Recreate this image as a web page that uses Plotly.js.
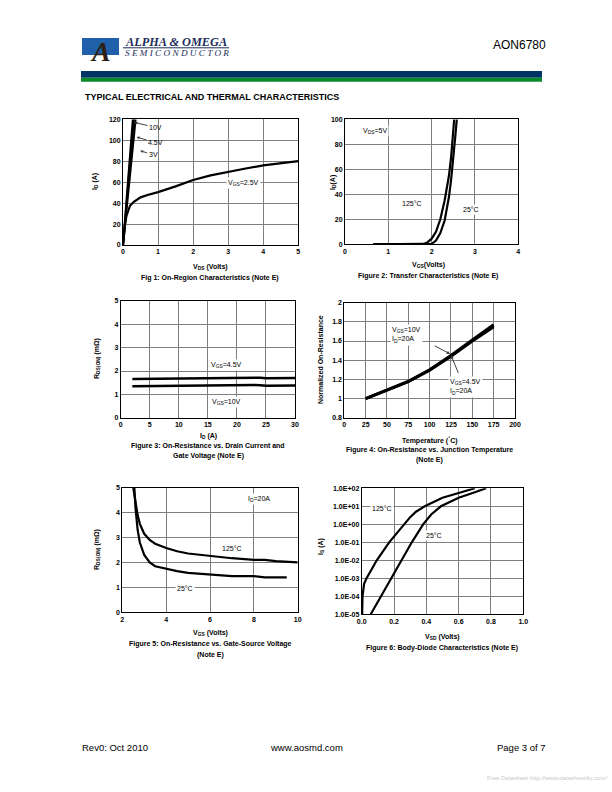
<!DOCTYPE html>
<html><head><meta charset="utf-8">
<script src="https://cdn.plot.ly/plotly-3.0.1.min.js"></script>
<style>html,body{margin:0;padding:0;background:#fff}#chart{width:612px;height:792px}</style>
</head><body><div id="chart"></div>
<script>
// ---------- Figure 1: On-Region Characteristics ----------
const fig1_vds_10v = [0, 0.1, 0.2, 0.28];
const fig1_id_10v  = [0, 43, 86, 120];
const fig1_vds_4v5 = [0, 0.1, 0.2, 0.31];
const fig1_id_4v5  = [0, 39, 77, 120];
const fig1_vds_3v  = [0, 0.1, 0.2, 0.3, 0.36];
const fig1_id_3v   = [0, 35, 69, 101, 120];
const fig1_vds_2v5 = [0, 0.03, 0.06, 0.1, 0.15, 0.2, 0.3, 0.4, 0.5, 0.7, 1, 1.5, 2, 2.5, 3, 3.5, 4, 4.5, 5];
const fig1_id_2v5  = [0, 11, 20, 28, 34, 37.5, 41, 43.5, 45.5, 47.8, 50.5, 56, 62, 66.5, 70, 73, 76, 78, 80];
// ---------- Figure 2: Transfer Characteristics ----------
const fig2_vgs_125 = [0.65, 1.0, 1.5, 1.8, 1.9, 2.0, 2.1, 2.2, 2.3, 2.4, 2.45, 2.5, 2.52];
const fig2_id_125  = [0, 0, 0, 0.3, 1.5, 4.5, 10, 20, 35, 55, 70, 90, 100];
const fig2_vgs_25  = [0.65, 1.0, 1.5, 2.0, 2.1, 2.2, 2.3, 2.4, 2.45, 2.5, 2.55, 2.58];
const fig2_id_25   = [0, 0, 0, 0.3, 3, 9, 19, 38, 52, 68, 88, 100];
// ---------- Figure 3: On-Resistance vs Drain Current ----------
const fig3_id       = [2, 5, 10, 15, 20, 22, 23, 24, 25, 30];
const fig3_rds_4v5  = [1.66, 1.67, 1.67, 1.68, 1.69, 1.71, 1.73, 1.71, 1.69, 1.70];
const fig3_rds_10v  = [1.35, 1.36, 1.36, 1.37, 1.38, 1.39, 1.40, 1.39, 1.37, 1.38];
// ---------- Figure 4: Normalized On-Resistance vs Temperature ----------
const fig4_temp      = [25, 50, 75, 100, 125, 150, 175];
const fig4_norm_10v  = [1.0, 1.09, 1.18, 1.30, 1.45, 1.61, 1.77];
const fig4_norm_4v5  = [1.0, 1.085, 1.175, 1.295, 1.44, 1.60, 1.75];
// ---------- Figure 5: On-Resistance vs Gate-Source Voltage ----------
const fig5_vgs_125 = [2.5, 2.6, 2.7, 2.8, 3.0, 3.25, 3.5, 4, 4.5, 5, 6, 7, 8, 8.5, 9, 10];
const fig5_rds_125 = [5.0, 4.4, 3.9, 3.55, 3.15, 2.9, 2.75, 2.58, 2.45, 2.36, 2.26, 2.17, 2.1, 2.1, 2.05, 2.0];
const fig5_vgs_25  = [2.55, 2.6, 2.7, 2.8, 3.0, 3.25, 3.5, 4, 4.5, 5, 6, 7, 8, 8.5, 9.5];
const fig5_rds_25  = [5.0, 4.2, 3.3, 2.8, 2.3, 2.0, 1.85, 1.74, 1.65, 1.58, 1.5, 1.45, 1.45, 1.4, 1.4];
// ---------- Figure 6: Body-Diode Characteristics ----------
const fig6_vsd_125 = [0.003, 0.005, 0.015, 0.03, 0.06, 0.093, 0.17, 0.26, 0.3, 0.336, 0.39, 0.5, 0.6, 0.7];
const fig6_is_125  = [1e-5, 1e-4, 5e-4, 1e-3, 3e-3, 1e-2, 1e-1, 1, 2.5, 5, 10, 30, 55, 100];
const fig6_vsd_25  = [0.056, 0.12, 0.18, 0.245, 0.31, 0.38, 0.43, 0.49, 0.6, 0.7, 0.77];
const fig6_is_25   = [1e-5, 1e-4, 1e-3, 1e-2, 1e-1, 1, 3.5, 10, 30, 60, 100];
const fig6_ytickvals = [1e-5, 1e-4, 1e-3, 1e-2, 1e-1, 1, 10, 100];
const fig6_yticktext = ['1.0E-05', '1.0E-04', '1.0E-03', '1.0E-02', '1.0E-01', '1.0E+00', '1.0E+01', '1.0E+02'];

const FONT = 'Liberation Sans, Arial, sans-serif';
const W = 612, H = 792;
const X = px => px / W;
const Y = py => 1 - py / H;
const TICKFONT = {family: FONT, size: 7, color: '#000', weight: 'bold'};

function axis(d0, d1, range, dtick, anchor, extra) {
  return Object.assign({
    domain: [X(d0), X(d1)], range: range, dtick: dtick, anchor: anchor,
    showgrid: true, gridcolor: '#7f7f7f', gridwidth: 1,
    showline: true, linecolor: '#000', linewidth: 1, mirror: true,
    zeroline: false, ticks: '', tickfont: TICKFONT,
    fixedrange: true
  }, extra || {});
}
function yaxis(d0, d1, range, dtick, anchor, extra) {
  return Object.assign({
    domain: [Y(d1), Y(d0)], range: range, dtick: dtick, anchor: anchor,
    showgrid: true, gridcolor: '#7f7f7f', gridwidth: 1,
    showline: true, linecolor: '#000', linewidth: 1, mirror: true,
    zeroline: false, ticks: '', tickfont: TICKFONT,
    fixedrange: true
  }, extra || {});
}
const line = w => ({color: '#000', width: w});
function tr(x, y, xa, ya, w, name) {
  return {x: x, y: y, xaxis: xa, yaxis: ya, mode: 'lines', line: line(w), name: name, showlegend: false, hoverinfo: 'skip'};
}

const data = [
  tr(fig1_vds_10v, fig1_id_10v, 'x', 'y', 2, '10V'),
  tr(fig1_vds_4v5, fig1_id_4v5, 'x', 'y', 2, '4.5V'),
  tr(fig1_vds_3v, fig1_id_3v, 'x', 'y', 2, '3V'),
  tr(fig1_vds_2v5, fig1_id_2v5, 'x', 'y', 2.2, 'VGS=2.5V'),
  tr(fig2_vgs_125, fig2_id_125, 'x2', 'y2', 2.2, '125°C'),
  tr(fig2_vgs_25, fig2_id_25, 'x2', 'y2', 2.2, '25°C'),
  tr(fig3_id, fig3_rds_4v5, 'x3', 'y3', 2.5, 'VGS=4.5V'),
  tr(fig3_id, fig3_rds_10v, 'x3', 'y3', 2.5, 'VGS=10V'),
  tr(fig4_temp, fig4_norm_10v, 'x4', 'y4', 3, 'VGS=10V'),
  tr(fig4_temp, fig4_norm_4v5, 'x4', 'y4', 3, 'VGS=4.5V'),
  tr(fig5_vgs_125, fig5_rds_125, 'x5', 'y5', 2.2, '125°C'),
  tr(fig5_vgs_25, fig5_rds_25, 'x5', 'y5', 2.2, '25°C'),
  tr(fig6_vsd_125, fig6_is_125, 'x6', 'y6', 2.2, '125°C'),
  tr(fig6_vsd_25, fig6_is_25, 'x6', 'y6', 2.2, '25°C')
];

function txt(x, y, text, opts) {
  return Object.assign({x: X(x), y: Y(y), xref: 'paper', yref: 'paper', text: text, showarrow: false,
    font: {family: FONT, size: 7, color: '#000'}, xanchor: 'center', yanchor: 'middle'}, opts || {});
}
function lbl(xref, yref, x, y, text, opts) {
  return Object.assign({x: x, y: y, xref: xref, yref: yref, text: text, showarrow: false,
    font: {family: FONT, size: 7, color: '#000'}, bgcolor: '#fff', borderpad: 1,
    xanchor: 'center', yanchor: 'middle'}, opts || {});
}
const B = s => '<b>' + s + '</b>';

const annotations = [
  // header
  txt(548, 45, 'AON6780', {xanchor: 'right', font: {family: FONT, size: 12, color: '#000'}}),
  txt(100, 51, '<b><i>A</i></b>', {font: {family: 'Liberation Serif, serif', size: 28, color: '#2e2012'}}),
  txt(123, 42.5, '<b><i>ALPHA &amp; OMEGA</i></b>', {xanchor: 'left', font: {family: 'Liberation Serif, serif', size: 12.3, color: '#1c2d5a'}}),
  txt(123, 53, '<i>S E M I C O N D U C T O R</i>', {xanchor: 'left', font: {family: 'Liberation Serif, serif', size: 9.2, color: '#1c2d5a'}}),
  txt(83, 97, B('TYPICAL ELECTRICAL AND THERMAL CHARACTERISTICS'), {xanchor: 'left', font: {family: FONT, size: 9, color: '#000'}}),
  // footer
  txt(80, 747, 'Rev0: Oct 2010', {xanchor: 'left', font: {family: FONT, size: 9.5, color: '#000'}}),
  txt(306, 747, 'www.aosmd.com', {font: {family: FONT, size: 9.5, color: '#000'}}),
  txt(548, 747, 'Page 3 of 7', {xanchor: 'right', font: {family: FONT, size: 9.5, color: '#000'}}),
  txt(485, 778, 'Free Datasheet http://www.datasheet4u.com/', {xanchor: 'left', font: {family: FONT, size: 6, color: '#c8c8c8'}}),

  // Fig 1
  txt(210, 267, B('V<sub>DS</sub> (Volts)')),
  txt(95, 182, B('I<sub>D</sub> (A)'), {textangle: -90}),
  txt(210, 278, B('Fig 1: On-Region Characteristics (Note E)')),
  lbl('x', 'y', 3.45, 59, 'V<sub>GS</sub>=2.5V'),
  {x: 0.33, y: 117, xref: 'x', yref: 'y', text: '10V', showarrow: true, arrowhead: 2, arrowsize: 0.6, arrowwidth: 1, ax: 21, ay: 5, font: {family: FONT, size: 7, color: '#000'}},
  {x: 0.39, y: 103, xref: 'x', yref: 'y', text: '4.5V', showarrow: true, arrowhead: 2, arrowsize: 0.6, arrowwidth: 1, ax: 19, ay: 5.5, font: {family: FONT, size: 7, color: '#000'}},
  {x: 0.49, y: 90, xref: 'x', yref: 'y', text: '3V', showarrow: true, arrowhead: 2, arrowsize: 0.6, arrowwidth: 1, ax: 13, ay: 4, font: {family: FONT, size: 7, color: '#000'}},

  // Fig 2
  txt(428, 265, B('V<sub>GS</sub>(Volts)')),
  txt(333, 183, B('I<sub>D</sub>(A)'), {textangle: -90}),
  txt(428, 275.5, B('Figure 2: Transfer Characteristics (Note E)')),
  lbl('x2', 'y2', 0.7, 90.5, 'V<sub>DS</sub>=5V'),
  lbl('x2', 'y2', 1.55, 33, '125°C'),
  lbl('x2', 'y2', 2.9, 27.5, '25°C'),

  // Fig 3
  txt(208, 436, B('I<sub>D</sub> (A)')),
  txt(97, 359, B('R<sub>DS(ON)</sub> (mΩ)'), {textangle: -90}),
  txt(208, 445.5, B('Figure 3: On-Resistance vs. Drain Current and')),
  txt(208, 456, B('Gate Voltage (Note E)')),
  lbl('x3', 'y3', 18.2, 2.25, 'V<sub>GS</sub>=4.5V'),
  lbl('x3', 'y3', 18.2, 0.68, 'V<sub>GS</sub>=10V'),

  // Fig 4
  txt(430, 440, B('Temperature (<sup>°</sup>C)')),
  txt(320, 360, B('Normalized On-Resistance'), {textangle: -90}),
  txt(430, 449.5, B('Figure 4: On-Resistance vs. Junction Temperature')),
  txt(430, 460, B('(Note E)')),
  lbl('x4', 'y4', 53.5, 1.663, 'V<sub>GS</sub>=10V<br>I<sub>D</sub>=20A', {xanchor: 'left', align: 'left'}),
  lbl('x4', 'y4', 121, 1.12, 'V<sub>GS</sub>=4.5V<br>I<sub>D</sub>=20A', {xanchor: 'left', align: 'left'}),
  {x: 124, y: 1.465, xref: 'x4', yref: 'y4', text: '', showarrow: true, arrowhead: 2, arrowsize: 0.7, arrowwidth: 1, ax: -17, ay: -9, bgcolor: 'rgba(0,0,0,0)'},
  {x: 125, y: 1.45, xref: 'x4', yref: 'y4', text: '', showarrow: true, arrowhead: 2, arrowsize: 0.7, arrowwidth: 1, ax: 8, ay: 19, bgcolor: 'rgba(0,0,0,0)'},

  // Fig 5
  txt(210, 633, B('V<sub>GS</sub> (Volts)')),
  txt(97, 550, B('R<sub>DS(ON)</sub> (mΩ)'), {textangle: -90}),
  txt(210, 644, B('Figure 5: On-Resistance vs. Gate-Source Voltage')),
  txt(210, 655, B('(Note E)')),
  lbl('x5', 'y5', 8.25, 4.55, 'I<sub>D</sub>=20A'),
  lbl('x5', 'y5', 7.0, 2.55, '125°C'),
  lbl('x5', 'y5', 4.85, 0.95, '25°C'),

  // Fig 6
  txt(442, 637, B('V<sub>SD</sub> (Volts)')),
  txt(321, 547, B('I<sub>S</sub> (A)'), {textangle: -90}),
  txt(442, 648, B('Figure 6: Body-Diode Characteristics (Note E)')),
  lbl('x6', 'y6', 0.125, 0.85, '125°C'),
  lbl('x6', 'y6', 0.45, -0.63, '25°C')
];

const shapes = [
  {type: 'rect', xref: 'paper', yref: 'paper', x0: X(82), x1: X(119), y0: Y(55), y1: Y(38), fillcolor: '#2060aa', line: {width: 0}, layer: 'below'},
  {type: 'line', xref: 'paper', yref: 'paper', x0: X(123), x1: X(229), y0: Y(47.8), y1: Y(47.8), line: {color: '#1c2d5a', width: 1}},
  {type: 'rect', xref: 'paper', yref: 'paper', x0: X(81), x1: X(542), y0: Y(77.7), y1: Y(71), fillcolor: '#003366', line: {width: 0}},
  {type: 'rect', xref: 'paper', yref: 'paper', x0: X(81), x1: X(542), y0: Y(81.7), y1: Y(77.7), fillcolor: '#0a8a2a', line: {width: 0}}
];

const layout = {
  width: W, height: H, autosize: false,
  margin: {l: 0, r: 0, t: 0, b: 0, pad: 0},
  paper_bgcolor: '#fff', plot_bgcolor: '#fff',
  showlegend: false,
  font: {family: FONT, size: 7, color: '#000'},
  xaxis:  axis(123, 298.3, [0, 5], 1, 'y'),
  yaxis:  yaxis(119.3, 245, [0, 120], 20, 'x'),
  xaxis2: axis(345, 518.3, [0, 4], 1, 'y2'),
  yaxis2: yaxis(119.3, 244.3, [0, 100], 20, 'x2'),
  xaxis3: axis(120.7, 295, [0, 30], 5, 'y3'),
  yaxis3: yaxis(301, 417.7, [0, 5], 1, 'x3'),
  xaxis4: axis(344.3, 515, [0, 200], 25, 'y4'),
  yaxis4: yaxis(302.7, 417.7, [0.8, 2], null, 'x4', {tickvals: [0.8, 1, 1.2, 1.4, 1.6, 1.8, 2], ticktext: ['0.8', '1', '1.2', '1.4', '1.6', '1.8', '2']}),
  xaxis5: axis(122.3, 297.7, [2, 10], 2, 'y5'),
  yaxis5: yaxis(487.7, 612.3, [0, 5], 1, 'x5'),
  xaxis6: axis(361.7, 523.3, [0, 1], 0.2, 'y6', {tickformat: '.1f'}),
  yaxis6: yaxis(488.3, 614.3, [-5, 2], null, 'x6', {type: 'log', tickvals: fig6_ytickvals, ticktext: fig6_yticktext}),
  annotations: annotations,
  shapes: shapes
};

Plotly.newPlot('chart', data, layout, {staticPlot: true, displayModeBar: false});
</script></body></html>
